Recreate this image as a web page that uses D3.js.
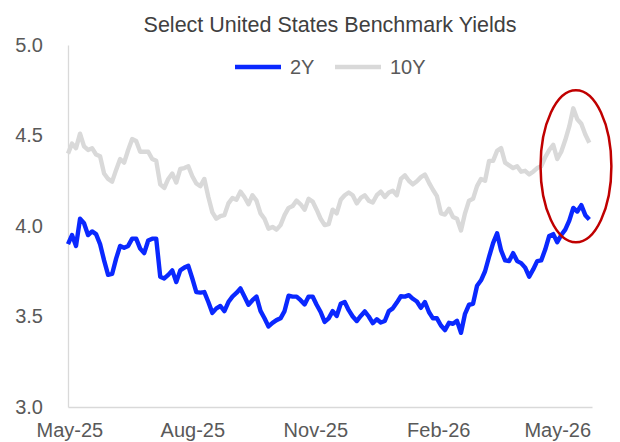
<!DOCTYPE html>
<html>
<head>
  <meta charset="UTF-8">
  <title>Select United States Benchmark Yields</title>
  <script src="https://d3js.org/d3.v7.min.js"></script>
  <style>
    body {
      margin: 0;
      padding: 0;
      background: #fff;
    }
    svg {
      display: block;
      font-family: "Liberation Sans", Arial, sans-serif;
    }
    .axis text {
      font-size: 20px;
      fill: #595959;
    }
  </style>
</head>
<body>

<script>
  const width = 620;
  const height = 442;

  // daily-ish observations, one every 3 calendar days starting 30 Apr 2025
  const startDate = new Date(2025, 3, 30);
  const stepDays = 3;

  const yield2y = [
    3.90, 3.95, 3.89, 4.04, 4.015, 3.95, 3.97, 3.955, 3.90, 3.81,
    3.73, 3.735, 3.82, 3.89, 3.88, 3.89, 3.93, 3.93, 3.875, 3.85,
    3.92, 3.93, 3.93, 3.72, 3.71, 3.73, 3.755, 3.69, 3.755, 3.77,
    3.78, 3.71, 3.635, 3.632, 3.635, 3.58, 3.52, 3.545, 3.558, 3.53,
    3.58, 3.61, 3.63, 3.655, 3.61, 3.565, 3.59, 3.61, 3.531, 3.49,
    3.445, 3.465, 3.48, 3.49, 3.53, 3.615, 3.61, 3.61, 3.59, 3.567,
    3.61, 3.61, 3.565, 3.525, 3.47, 3.49, 3.53, 3.503, 3.57, 3.58,
    3.535, 3.50, 3.475, 3.503, 3.528, 3.50, 3.463, 3.485, 3.467, 3.475,
    3.53, 3.545, 3.577, 3.612, 3.61, 3.618, 3.598, 3.583, 3.548, 3.58,
    3.525, 3.49, 3.49, 3.45, 3.425, 3.465, 3.46, 3.476, 3.41, 3.515,
    3.565, 3.57, 3.67, 3.70, 3.75, 3.83, 3.905, 3.96, 3.865, 3.81,
    3.806, 3.85, 3.806, 3.795, 3.77, 3.72, 3.76, 3.806, 3.81, 3.87,
    3.945, 3.955, 3.91, 3.95, 3.98, 4.03, 4.10, 4.08, 4.115, 4.06,
    4.036
  ];

  const yield10y = [
    4.40, 4.455, 4.43, 4.51, 4.44, 4.42, 4.43, 4.395, 4.385, 4.29,
    4.26, 4.245, 4.31, 4.37, 4.35, 4.42, 4.48, 4.47, 4.41, 4.41,
    4.41, 4.37, 4.36, 4.23, 4.21, 4.26, 4.29, 4.24, 4.315, 4.32,
    4.33, 4.275, 4.235, 4.22, 4.26, 4.16, 4.075, 4.04, 4.054, 4.06,
    4.125, 4.155, 4.145, 4.19, 4.16, 4.12, 4.17, 4.14, 4.07, 4.04,
    3.985, 3.995, 3.98, 4.005, 4.06, 4.10, 4.11, 4.14, 4.12, 4.09,
    4.15, 4.135, 4.09, 4.04, 4.005, 4.01, 4.09, 4.07, 4.145, 4.17,
    4.185, 4.17, 4.125, 4.155, 4.17, 4.14, 4.13, 4.17, 4.19, 4.16,
    4.185, 4.195, 4.17, 4.26, 4.28, 4.25, 4.23, 4.247, 4.27, 4.284,
    4.24, 4.20, 4.165, 4.07, 4.063, 4.095, 4.05, 4.04, 3.975, 4.07,
    4.14, 4.15, 4.22, 4.26, 4.25, 4.36, 4.36, 4.415, 4.43, 4.35,
    4.335, 4.32, 4.33, 4.30, 4.305, 4.285, 4.30, 4.32, 4.33, 4.38,
    4.42, 4.449, 4.37, 4.41, 4.475, 4.55, 4.65, 4.59, 4.565, 4.505,
    4.46
  ];

  const seriesNames = ["2Y", "10Y"];
  const seriesColors = ["#0a28ff", "#d9d9d9"];
  const yTicks = [3.0, 3.5, 4.0, 4.5, 5.0];
  const xTickDates = ["2025-05-01", "2025-08-01", "2025-11-01", "2026-02-01", "2026-05-01"];

  // red ellipse highlighting the latest move
  const highlight = { date: "2026-05-15", value: 4.33, halfDays: 26.5, halfValue: 0.42 };

  const dates = yield2y.map((d, i) => d3.timeDay.offset(startDate, i * stepDays));
  const parse = d3.timeParse("%Y-%m-%d");

  const svg = d3.select("body")
    .append("svg")
    .attr("width", width)
    .attr("height", height);

  const x = d3.scaleTime()
    .domain([startDate, new Date(2026, 4, 27)])
    .range([68, 592]);

  const y = d3.scaleLinear()
    .domain([3, 5])
    .range([407, 45]);

  // axes
  const xAxis = svg.append("g")
    .attr("class", "axis")
    .attr("transform", `translate(0,${y(3)})`)
    .call(d3.axisBottom(x)
      .tickValues(xTickDates.map(parse))
      .tickFormat(d3.timeFormat("%b-%y"))
      .tickSize(0)
      .tickPadding(16));
  xAxis.select(".domain").attr("stroke", "#d9d9d9").attr("stroke-width", 1.3);

  const yAxis = svg.append("g")
    .attr("class", "axis")
    .attr("transform", `translate(68,0)`)
    .call(d3.axisLeft(y)
      .tickValues(yTicks)
      .tickFormat(d3.format(".1f"))
      .tickSize(0)
      .tickPadding(25));
  yAxis.select(".domain").attr("stroke", "#d9d9d9").attr("stroke-width", 1.3);

  // lines
  const line = d3.line()
    .x((d, i) => x(dates[i]))
    .y(d => y(d));

  svg.append("path")
    .datum(yield10y)
    .attr("fill", "none")
    .attr("stroke", seriesColors[1])
    .attr("stroke-width", 4.4)
    .attr("stroke-linejoin", "round")
    .attr("d", line);

  svg.append("path")
    .datum(yield2y)
    .attr("fill", "none")
    .attr("stroke", seriesColors[0])
    .attr("stroke-width", 4.4)
    .attr("stroke-linejoin", "round")
    .attr("d", line);

  // highlight ellipse
  const hc = parse(highlight.date);
  svg.append("ellipse")
    .attr("cx", x(hc))
    .attr("cy", y(highlight.value))
    .attr("rx", x(d3.timeHour.offset(hc, highlight.halfDays * 24)) - x(hc))
    .attr("ry", y(highlight.value - highlight.halfValue) - y(highlight.value))
    .attr("fill", "none")
    .attr("stroke", "#c00000")
    .attr("stroke-width", 2.5);

  // title
  svg.append("text")
    .attr("x", 330)
    .attr("y", 32)
    .attr("text-anchor", "middle")
    .attr("font-size", 21.5)
    .attr("fill", "#404040")
    .text("Select United States Benchmark Yields");

  // legend
  const legend = svg.append("g").attr("transform", "translate(235,67)");
  const legendX = [0, 100];
  seriesNames.forEach((name, i) => {
    legend.append("line")
      .attr("x1", legendX[i])
      .attr("x2", legendX[i] + 46)
      .attr("stroke", seriesColors[i])
      .attr("stroke-width", 4.4);
    legend.append("text")
      .attr("x", legendX[i] + 55)
      .attr("y", 7)
      .attr("font-size", 20)
      .attr("fill", "#595959")
      .text(name);
  });
</script>

</body>
</html>
